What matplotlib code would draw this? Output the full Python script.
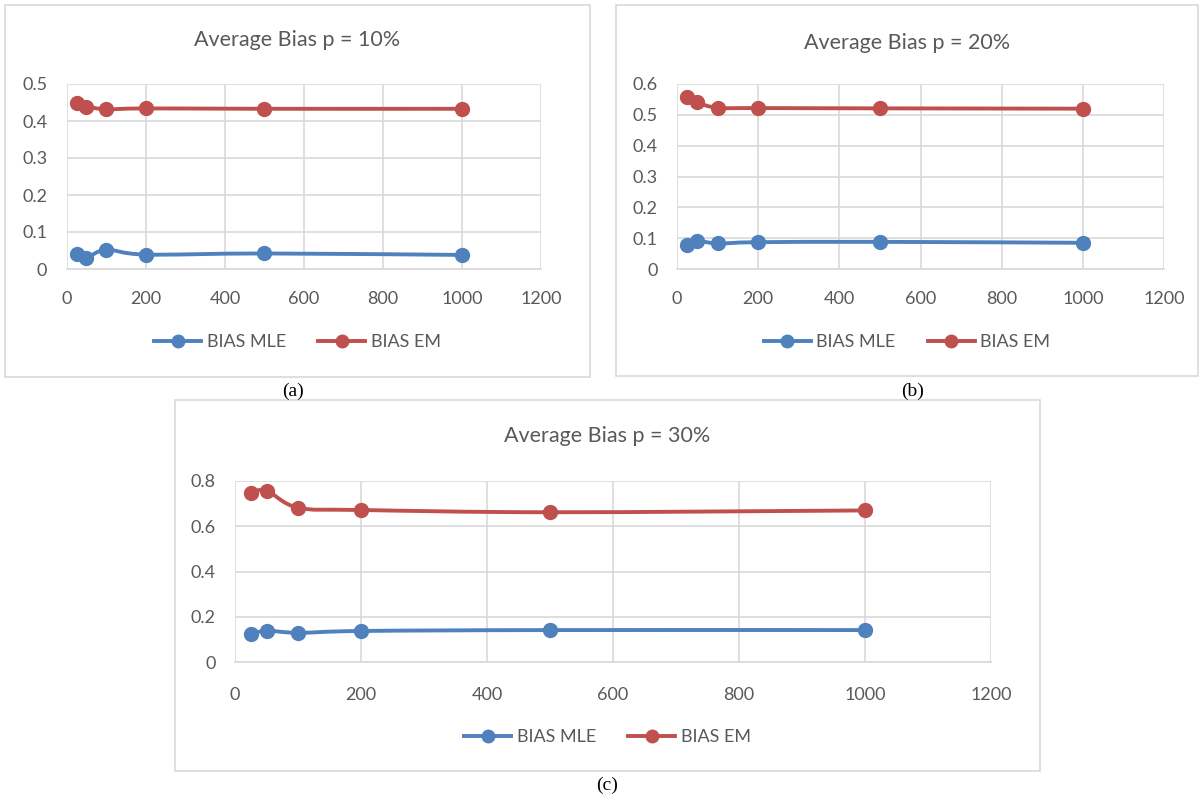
import numpy as np
import matplotlib
matplotlib.use("Agg")
import matplotlib.pyplot as plt
from matplotlib.path import Path
from matplotlib.patches import PathPatch, Rectangle
from matplotlib.lines import Line2D

# --- data ---
sample_size = [25, 50, 100, 200, 500, 1000]

bias_mle_10 = [0.040, 0.031, 0.052, 0.039, 0.042, 0.038]
bias_em_10 = [0.448, 0.439, 0.432, 0.434, 0.433, 0.433]

bias_mle_20 = [0.077, 0.091, 0.083, 0.087, 0.088, 0.085]
bias_em_20 = [0.557, 0.540, 0.523, 0.522, 0.521, 0.520]

bias_mle_30 = [0.123, 0.139, 0.130, 0.138, 0.142, 0.142]
bias_em_30 = [0.747, 0.756, 0.681, 0.671, 0.661, 0.669]

titles = ["Average Bias p = 10%", "Average Bias p = 20%", "Average Bias p = 30%"]
captions = ["(a)", "(b)", "(c)"]
series_names = ["BIAS MLE", "BIAS EM"]

BLUE = "#4F81BD"
RED = "#C0504D"
GRID = "#D9D9D9"
TXT = "#595959"
FONT = "Lato"

W, H = 1204, 799
fig = plt.figure(figsize=(W / 100, H / 100), dpi=100)
fig.patch.set_facecolor("white")


def px_axes(left, top, right, bottom):
    return fig.add_axes([left / W, 1 - bottom / H, (right - left) / W, (bottom - top) / H])


def frame(left, top, right, bottom):
    fig.patches.append(Rectangle((left / W, 1 - bottom / H), (right - left) / W, (bottom - top) / H,
                                 transform=fig.transFigure, fill=False, edgecolor=GRID, lw=1.2))


def smooth_path(x, y):
    # Excel-like smoothed line: cubic bezier segments through the points
    x = np.asarray(x, float)
    y = np.asarray(y, float)
    n = len(x)
    verts = [(x[0], y[0])]
    codes = [Path.MOVETO]
    for i in range(n - 1):
        i0 = max(i - 1, 0)
        i3 = min(i + 2, n - 1)
        c1 = (x[i] + (x[i + 1] - x[i0]) / 6, y[i] + (y[i + 1] - y[i0]) / 6)
        c2 = (x[i + 1] - (x[i3] - x[i]) / 6, y[i + 1] - (y[i3] - y[i]) / 6)
        verts += [c1, c2, (x[i + 1], y[i + 1])]
        codes += [Path.CURVE4] * 3
    return Path(verts, codes)


def draw_panel(box, area, ymax, ystep, mle, em, title, caption, title_y, tick_y, leg_y, cap_xy):
    frame(*box)
    ax = px_axes(*area)
    for vals, col in [(mle, BLUE), (em, RED)]:
        ax.add_patch(PathPatch(smooth_path(sample_size, vals), fill=False, edgecolor=col,
                               lw=2.8, capstyle="round", joinstyle="round", zorder=3))
        ax.plot(sample_size, vals, "o", color=col, ms=10, zorder=4)
    ax.set_xlim(0, 1200)
    ax.set_ylim(0, ymax)
    ax.set_xticks(np.arange(0, 1201, 200))
    yt = np.round(np.arange(0, ymax + 1e-9, ystep), 2)
    ax.set_yticks(yt)
    ax.set_yticklabels(["0" if v == 0 else f"{v:g}" for v in yt])
    ax.grid(True, color=GRID, lw=1.2)
    ax.set_axisbelow(True)
    for s in ["top", "right", "left"]:
        ax.spines[s].set_visible(False)
    ax.spines["bottom"].set_color(GRID)
    ax.spines["bottom"].set_linewidth(1.2)
    ax.tick_params(length=0, labelsize=13, labelcolor=TXT)
    ax.tick_params(axis="x", pad=(tick_y - area[3]) - 10)
    ax.tick_params(axis="y", pad=14)
    for lab in ax.get_xticklabels() + ax.get_yticklabels():
        lab.set_fontfamily(FONT)

    cx = (box[0] + box[2]) / 2 / W
    fig.text(cx, 1 - title_y / H, title, ha="center", va="center", fontsize=15.5,
             color=TXT, fontfamily=FONT)
    handles = [Line2D([], [], color=BLUE, lw=2.8, marker="o", ms=9),
               Line2D([], [], color=RED, lw=2.8, marker="o", ms=9)]
    fig.legend(handles, series_names, loc="center", bbox_to_anchor=(cx, 1 - leg_y / H),
               ncol=2, frameon=False, handlelength=2.6, columnspacing=1.8, handletextpad=0.3,
               prop={"family": FONT, "size": 13}, labelcolor=TXT)
    fig.text(cap_xy[0] / W, 1 - cap_xy[1] / H, caption, ha="center", va="center",
             fontsize=14, fontfamily="Liberation Serif", color="black")


draw_panel((5, 5, 590, 377), (66.7, 84, 541.4, 269), 0.5, 0.1, bias_mle_10, bias_em_10,
           titles[0], captions[0], 40, 295, 342, (293, 391))
draw_panel((616, 5, 1198, 376), (677, 84, 1164, 269), 0.6, 0.1, bias_mle_20, bias_em_20,
           titles[1], captions[1], 43, 295, 342, (913, 391))
draw_panel((175, 400, 1040, 771), (235, 480.7, 991, 662.3), 0.8, 0.2, bias_mle_30, bias_em_30,
           titles[2], captions[2], 436, 690, 737, (607, 785))

fig.savefig("out.png", dpi=100)
